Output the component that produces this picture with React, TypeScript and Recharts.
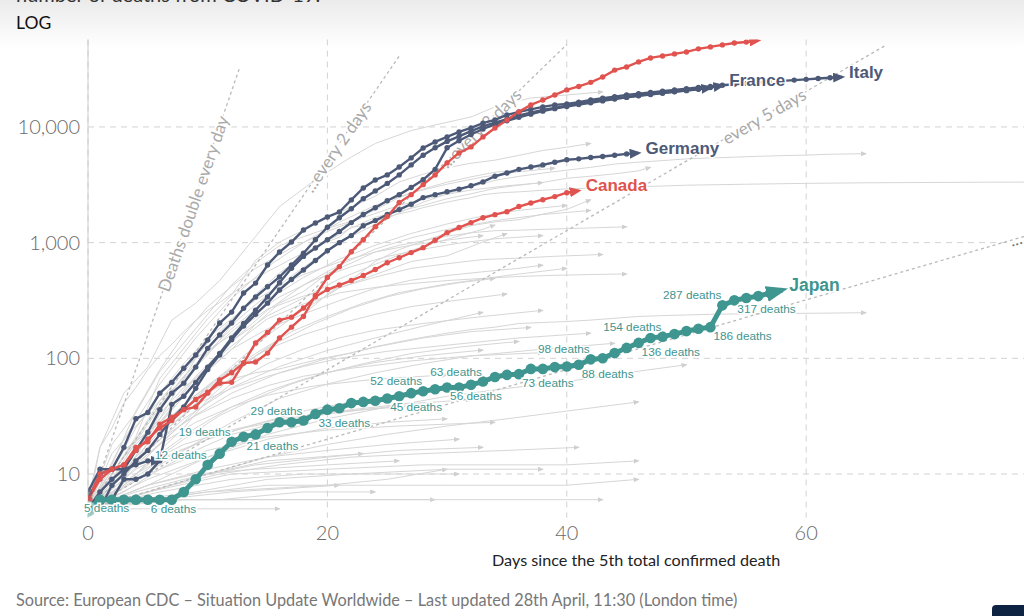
import React from 'react';
import { LineChart, Line, XAxis, YAxis, CartesianGrid, ReferenceLine } from 'recharts';

type Pair = [number, number];

// ---------- highlighted countries: cumulative deaths by day since 5th death ----------
const italyDeaths = [6,10,11,17,30,34,50,62,82,107,144,202,251,367,447,640,829,1012,1285,1477,1667,1840,2340,2970,3480,3850,4510,5400,6580,7420,8200,9060,9800,10800,11500,12700,13500,14200,14900,15500,15800,16400,17100,17700,18300,18900,19400,19900,20400,20900,21400,21900,22400,22900,23400,23800,24200,24600,25000,25400,25800,26200,26600,27000];
const franceDeaths = [5,7,9,11,16,23,36,50,61,84,122,159,202,271,339,415,505,640,810,1060,1360,1640,1960,2400,2800,3250,3850,4700,5700,6600,7500,8300,9200,10100,10900,11700,12600,13300,14000,14600,15300,15900,16500,17100,17600,18100,18700,19200,19700,20200,20700,21300,21900,22800];
const spainDeaths = [5,6,6,9,9,10,13,40,47,62,84,110,150,200,260,340,450,600,760,900,1060,1250,1490,1750,2000,2300,2600,3000,3500,4300,6600,7600,8600,9600,10500,11300,12100,12900,13700,14400,15000,15600,16200,16800,17400,18000,18600,19100,19600,20100,20600,21200,21800];
const germanyDeaths = [5,5,8,10,13,16,22,30,38,55,80,107,145,190,240,300,390,480,580,700,850,1000,1150,1400,1550,1750,1930,2150,2450,2600,2750,2900,3100,3350,3750,4000,4300,4500,4700,4950,5200,5300,5450,5550,5700,5850,5950];
const shortDarkDeaths = [7,11,11,11,12,13,13];
const usDeaths = [6,9,11,12,17,19,27,31,36,44,51,61,62,91,93,111,150,186,230,350,499,620,836,1060,1375,1680,2220,2600,3170,3850,4890,5960,6720,8200,9800,11500,13500,15500,17100,18900,20900,22400,24300,27000,31000,33000,36500,39500,41100,42800,44500,47300,49200,51200,53200,54300,55800];
const canadaDeaths = [6,10,11,12,16,20,25,29,36,38,50,65,75,91,136,167,214,227,272,340,393,430,470,520,585,670,740,820,905,1050,1220,1350,1490,1640,1745,1850,2050,2200,2350,2500,2700,2810];
const japanDeaths = [5,6,6,6,6,6,6,6,7,9,12,15,19,21,22,25,28,28,29,33,36,37,41,42,43,45,47,50,52,54,56,56,59,63,69,72,73,81,81,84,85,88,98,100,111,123,136,150,154,162,172,180,186,287,317,332,345,366,389];

// Japan annotated points (day index) and which side of the line the label sits
const japanAnnotations: { day: number; side: 'above' | 'below' | 'right' }[] = [
  { day: 0, side: 'right' }, { day: 5, side: 'below' }, { day: 10, side: 'above' },
  { day: 12, side: 'above' }, { day: 13, side: 'below' }, { day: 18, side: 'above' },
  { day: 19, side: 'below' }, { day: 25, side: 'below' }, { day: 28, side: 'above' },
  { day: 30, side: 'below' }, { day: 33, side: 'above' }, { day: 36, side: 'below' },
  { day: 41, side: 'below' }, { day: 42, side: 'above' }, { day: 46, side: 'below' },
  { day: 48, side: 'above' }, { day: 52, side: 'below' }, { day: 53, side: 'above' },
  { day: 54, side: 'below' },
];

// ---------- other countries (grey), [day, deaths] ----------
const greyHigh: Pair[][] = [
  [[0,5],[1,17],[3,50],[5,84],[7,214],[9,300],[11,470],[14,1130],[16,2050],[19,3500],[22,5500],[24,7200],[27,9300],[29,10400],[32,12200],[34,14900],[37,17800],[40,18900],[43,20100]],
  [[0,5],[2,15],[4,26],[6,43],[8,66],[10,107],[12,194],[14,291],[16,429],[18,611],[20,853],[22,1135],[24,1433],[26,1812],[28,2234],[30,2640],[32,3036],[34,3452],[36,3739],[38,3993],[40,4232],[42,4474],[44,4777],[46,4958],[48,5118],[50,5297],[52,5391],[54,5481],[56,5574],[58,5650],[60,5710],[62,5806],[65,5877]],
  [[0,6],[1,17],[2,25],[3,41],[4,56],[5,80],[6,106],[7,132],[8,170],[9,213],[10,259],[11,304],[12,361],[13,425],[14,490],[15,562],[16,636],[17,723],[18,812],[19,909],[20,1017],[21,1114],[22,1368],[23,1381],[24,1524],[25,1666],[26,1772],[27,1870],[28,2006],[29,2121],[30,2239],[31,2348],[32,2445],[33,2595],[34,2666],[35,2718],[36,2747],[37,2791],[38,2838],[39,2873],[40,2915],[45,3015],[50,3136],[55,3199],[60,3253],[65,3290],[70,3309],[75,3330],[80,3339],[85,3342]],
  [[0,5],[2,10],[4,21],[6,67],[8,122],[10,220],[12,353],[14,705],[16,1011],[18,1283],[20,1632],[22,2035],[24,2523],[26,3346],[28,3903],[30,4440],[32,4857],[34,5163],[36,5683],[38,6262],[40,6679],[42,7207]],
  [[0,5],[2,10],[4,20],[6,43],[8,76],[10,136],[12,213],[14,356],[16,546],[18,771],[20,1039],[22,1339],[24,1651],[26,1867],[28,2101],[30,2396],[32,2643],[34,2945],[36,3134],[38,3315],[40,3601],[42,3751],[44,3929],[46,4177],[47,4475]],
  [[0,5],[2,18],[4,34],[6,77],[8,136],[10,240],[12,431],[14,667],[16,941],[18,1124],[20,1328],[22,1532],[24,1924],[26,2462],[28,2906],[30,3331],[32,3704],[34,4057],[36,4286],[38,4543]],
  [[0,5],[2,7],[4,10],[6,16],[8,25],[10,44],[12,69],[14,105],[16,146],[18,239],[20,358],[22,477],[24,687],[26,870],[28,1033],[30,1203],[32,1400],[34,1511],[36,1580],[38,1765],[40,1937],[42,2350]],
  [[0,5],[2,11],[4,14],[6,33],[8,56],[10,80],[12,119],[14,197],[16,300],[18,378],[20,540],[22,666],[24,831],[26,948],[28,1036],[30,1138],[32,1217],[34,1268],[36,1281],[38,1302],[40,1322],[42,1340],[45,1370]],
  [[0,5],[3,10],[6,22],[9,46],[12,85],[15,158],[18,263],[21,406],[24,530],[27,687],[30,769],[33,1014],[35,1200]],
  [[0,5],[3,16],[6,28],[9,60],[12,141],[15,233],[18,332],[21,486],[24,650],[27,857],[30,1069],[33,1305],[34,1420]],
  [[0,5],[2,12],[4,35],[6,80],[8,160],[10,280],[12,420],[14,600],[17,900],[20,1250],[23,1650],[26,2100],[29,2500],[32,2850],[35,3100],[38,3300]],
  [[0,5],[3,20],[6,60],[9,150],[12,330],[15,620],[18,1000],[21,1500],[24,2100],[27,2700],[30,3200],[33,3700],[36,4100],[39,4400]],
  [[0,5],[3,14],[6,40],[9,90],[12,180],[15,320],[18,500],[21,720],[24,950],[27,1200],[30,1450],[33,1700],[36,1900],[40,2100]],
  [[0,5],[3,10],[6,30],[9,70],[12,140],[15,260],[18,430],[21,640],[24,880],[27,1100],[30,1300],[34,1550],[38,1750],[42,1900]],
  [[0,5],[2,11],[4,25],[6,50],[8,90],[10,150],[12,220],[14,320],[16,420],[18,530],[21,680],[24,830],[27,950],[30,1050],[33,1150]],
  [[0,5],[2,9],[4,19],[6,38],[8,70],[10,110],[12,170],[14,250],[16,340],[19,480],[22,620],[25,760],[28,880],[31,990],[34,1080],[38,1150]],
];

const greyMid: Pair[][] = [
  [[0,5],[3,14],[6,30],[9,100],[12,160],[15,266],[18,345],[21,409],[24,504],[27,599],[30,657],[33,714],[36,735],[39,762],[43,790]],
  [[0,5],[3,16],[6,28],[9,68],[12,128],[15,220],[18,295],[21,368],[24,410],[27,443],[30,470],[33,491],[36,510],[39,522],[42,530],[45,536]],
  [[0,5],[3,9],[6,27],[9,62],[12,120],[15,180],[18,242],[21,315],[24,403],[27,474],[30,520],[33,560],[36,600],[38,640]],
  [[0,5],[4,13],[8,30],[12,56],[16,85],[20,117],[24,150],[28,190],[33,250]],
  [[0,5],[2,8],[4,13],[6,22],[8,32],[10,50],[12,66],[14,75],[16,81],[18,91],[20,102],[22,111],[24,126],[26,139],[28,152],[30,165],[32,177],[34,186],[36,200],[38,204],[40,208],[42,214],[44,222],[46,230],[48,234],[50,237],[52,240],[54,242],[56,243],[58,244],[60,245],[62,246],[65,248]],
  [[0,5],[5,8],[10,14],[15,22],[20,30],[25,38],[30,47],[35,55],[40,63],[45,75],[50,88]],
  [[0,5],[5,7],[10,10],[15,14],[20,18],[25,22],[30,26],[35,30],[40,35],[46,42]],
  [[0,5],[3,12],[6,26],[9,48],[12,80],[15,120],[18,160],[21,200],[24,240],[27,280],[30,310],[35,360]],
  [[0,5],[3,9],[6,18],[9,35],[12,60],[15,90],[18,120],[21,150],[24,175],[28,200],[33,230],[38,260]],
  [[0,5],[2,9],[5,20],[8,40],[11,70],[14,110],[17,170],[20,230],[23,300],[26,370],[30,440],[35,520],[40,600]],
  [[0,5],[3,10],[6,22],[9,40],[12,55],[15,70],[18,85],[21,100],[25,115],[30,130],[36,150],[42,165]],
  [[0,5],[4,9],[8,16],[12,28],[16,45],[20,60],[24,75],[28,90],[32,105],[38,120],[44,135]],
  [[0,5],[2,8],[4,14],[7,30],[10,55],[13,90],[16,140],[19,200],[22,270],[25,340],[28,400],[31,450],[34,490]],
  [[0,5],[3,8],[6,15],[9,25],[12,38],[15,52],[18,66],[21,80],[24,92],[28,105],[33,118]],
  [[0,5],[2,7],[5,12],[8,20],[11,32],[14,45],[17,60],[20,75],[23,90],[27,110],[31,125],[36,140]],
  [[0,5],[4,12],[8,28],[12,50],[16,75],[20,100],[24,125],[28,150],[32,170],[37,185]],
  [[0,5],[3,11],[6,20],[9,32],[12,45],[15,58],[18,70],[22,82],[27,95],[32,105],[38,112]],
];

const greyLow: Pair[][] = [
  [[0,5],[16,5]],
  [[0,5],[6,6],[15,6],[29,6]],
  [[0,5],[5,6],[10,7],[15,8],[20,8],[25,9],[30,11]],
  [[0,5],[5,8],[10,11],[15,14],[20,16],[25,18],[31,20]],
  [[0,5],[5,7],[10,10],[15,13],[23,15]],
  [[0,5],[6,6],[12,7],[21,8]],
  [[0,5],[5,9],[10,14],[15,20],[20,25],[25,28],[30,30]],
  [[0,5],[5,10],[10,16],[15,21],[20,24],[26,26],[34,28]],
  [[0,5],[4,11],[8,18],[12,24],[16,30],[20,34],[26,38]],
  [[0,5],[4,7],[8,9],[14,12],[20,14],[26,16],[33,17]],
  [[0,5],[8,6],[20,6],[36,6],[43,6]],
  [[0,5],[10,7],[20,8],[30,8],[40,8],[46,9]],
  [[0,5],[5,7],[12,10],[20,11],[28,12],[40,12],[46,13]],
  [[0,5],[3,8],[6,13],[10,20],[14,27],[18,35],[22,42],[27,48]],
  [[0,5],[3,6],[7,8],[11,10],[16,12],[22,14],[28,15],[35,16],[41,17]],
  [[0,5],[2,7],[4,10],[7,15],[10,20],[13,25],[17,30],[21,35],[26,40],[32,44]],
  [[0,5],[4,6],[9,7],[15,9],[22,10],[30,11],[38,11]],
  [[0,5],[3,7],[6,11],[9,16],[12,22],[16,28],[20,33],[24,37],[29,40]],
  [[0,5],[2,6],[5,8],[9,10],[14,11],[20,12],[26,13]],
  [[0,5],[6,7],[12,9],[18,10],[25,10],[31,10]],
  [[0,5],[5,6],[11,6],[18,7],[24,7]],
  [[0,5],[3,10],[6,18],[9,28],[12,38],[15,48],[19,58],[24,66],[30,72]],
];

// ---------- doubling-time guide lines ----------
const doublingTexts = ['Deaths double every day', '...every 2 days', '...every 3 days', 'every 5 days', '...'];
const doublingStarts: Pair[] = [[0,5],[0,5],[0,5],[0,5],[0,5]];
const doublingEnds: Pair[] = [[12.7,33270],[26,40960],[40,51600],[66.6,50500],[78.2,1130]];

const xTicks = [0, 20, 40, 60];
const yTicks = [10, 100, 1000, 10000];

// ---------- styles ----------
const DARK = '#4c5a78';
const RED = '#e0534f';
const TEAL = '#3f958f';
const GREY = '#d6d6d6';
const LABEL_FONT = '"Liberation Sans", Arial, Helvetica, sans-serif';
const UI_FONT = 'Lato, "Open Sans", sans-serif';
const doublingLabelPos = [
  { t: 0.69, anchor: 'middle', size: 17, color: '#a9a9a9' },
  { t: 0.8, anchor: 'middle', size: 17, color: '#a9a9a9' },
  { t: 0.82, anchor: 'middle', size: 17, color: '#a9a9a9' },
  { t: 0.848, anchor: 'middle', size: 17, color: '#a9a9a9' },
  { t: 0.985, anchor: 'start', size: 17, color: '#777777' },
];

const byDay = (vals: number[]) => vals.map((deaths, day) => ({ day, deaths }));
const byPairs = (pairs: Pair[]) => pairs.map(([day, deaths]) => ({ day, deaths }));

const highlighted = [
  { name: 'Italy', values: italyDeaths, color: DARK, marker: 'arrow-dark', showName: true },
  { name: 'Spain', values: spainDeaths, color: DARK, marker: 'arrow-dark', showName: false },
  { name: 'France', values: franceDeaths, color: DARK, marker: 'arrow-dark', showName: true },
  { name: 'Germany', values: germanyDeaths, color: DARK, marker: 'arrow-dark', showName: true },
  { name: 'Other', values: shortDarkDeaths, color: DARK, marker: 'arrow-dark', showName: false },
  { name: 'United States', values: usDeaths, color: RED, marker: 'arrow-red', showName: false },
  { name: 'Canada', values: canadaDeaths, color: RED, marker: 'arrow-red', showName: true },
];

const ptX = (p: any) => (p.x ?? p.viewBox?.x) as number;
const ptY = (p: any) => (p.y ?? p.viewBox?.y) as number;

const makeDot = (color: string, r: number, lastIndex: number, firstRing: boolean) => (props: any) => {
  const { cx, cy, index } = props;
  const key = `dot-${index}`;
  if (cx == null || cy == null || index === lastIndex) return <g key={key} />;
  if (index === 0) {
    if (firstRing) {
      return (
        <g key={key}>
          <circle cx={cx} cy={cy} r={r + 2.5} fill="#9ccac6" />
          <circle cx={cx} cy={cy} r={r - 0.5} fill={color} />
        </g>
      );
    }
    return <circle key={key} cx={cx} cy={cy} r={r + 1.8} fill={color} fillOpacity={0.55} />;
  }
  return <circle key={key} cx={cx} cy={cy} r={r} fill={color} />;
};

const nameText = (x: number, y: number, name: string, color: string, size: number) => (
  <text
    x={x + 7}
    y={y - 5}
    fill={color}
    fontSize={size}
    fontWeight="bold"
    fontFamily={LABEL_FONT}
    dominantBaseline="central"
    stroke="#ffffff"
    strokeWidth={3}
    paintOrder="stroke"
  >
    {name}
  </text>
);

const makeNameLabel = (name: string, color: string, lastIndex: number) => (props: any) => {
  if (props.index !== lastIndex) return null;
  return nameText(ptX(props), ptY(props), name, color, 17);
};

const japanLast = japanDeaths.length - 1;
const japanLabel = (props: any) => {
  const { index, value } = props;
  const x = ptX(props);
  const y = ptY(props);
  if (index === japanLast) return nameText(x, y, 'Japan', TEAL, 17.5);
  const ann = japanAnnotations.find((a) => a.day === index);
  if (!ann) return null;
  let tx = x;
  let ty = y;
  let anchor: 'start' | 'end' = 'start';
  if (ann.side === 'above') { tx = x - 1; ty = y - 10; anchor = 'end'; }
  else if (ann.side === 'below') { tx = x + 3; ty = y + 9; anchor = 'start'; }
  else { tx = x - 4; ty = y - 1; anchor = 'start'; }
  return (
    <text
      x={tx}
      y={ty}
      textAnchor={anchor}
      dominantBaseline="central"
      fill={TEAL}
      fontSize={11.8}
      fontFamily={LABEL_FONT}
      stroke="#ffffff"
      strokeWidth={3}
      paintOrder="stroke"
    >
      {`${value} deaths`}
    </text>
  );
};

const makeRefLabel = (text: string, pos: { t: number; anchor: string; size: number; color: string }) => (props: any) => {
  const vb = props.viewBox;
  if (!vb) return null;
  const { x, y, width, height } = vb;
  const angle = (-Math.atan2(height, width) * 180) / Math.PI;
  const cx = x + pos.t * width;
  const cy = y + height - pos.t * height;
  return (
    <text
      x={cx}
      y={cy}
      transform={`rotate(${angle} ${cx} ${cy})`}
      textAnchor={pos.anchor as any}
      dominantBaseline="central"
      fill={pos.color}
      fontSize={pos.size}
      fontFamily={UI_FONT}
      stroke="#ffffff"
      strokeWidth={4}
      paintOrder="stroke"
    >
      {text}
    </text>
  );
};

const greyAll = [...greyHigh, ...greyMid, ...greyLow];

export default function App() {
  return (
    <div style={{ position: 'absolute', left: 0, top: 0, width: 1024, height: 616, overflow: 'hidden', background: '#fff' }}>
      <svg width="0" height="0" style={{ position: 'absolute' }}>
        <defs>
          <marker id="arrow-dark" markerWidth="12" markerHeight="10" refX="9" refY="5" orient="auto" markerUnits="userSpaceOnUse">
            <path d="M0,0 L12,5 L0,10 Z" fill={DARK} />
          </marker>
          <marker id="arrow-red" markerWidth="12" markerHeight="10" refX="9" refY="5" orient="auto" markerUnits="userSpaceOnUse">
            <path d="M0,0 L12,5 L0,10 Z" fill={RED} />
          </marker>
          <marker id="arrow-teal" markerWidth="22" markerHeight="16" refX="16" refY="8" orient="auto" markerUnits="userSpaceOnUse">
            <path d="M0,0 L22,8 L0,16 Z" fill={TEAL} />
          </marker>
          <marker id="arrow-grey" markerWidth="6" markerHeight="5" refX="5" refY="2.5" orient="auto" markerUnits="userSpaceOnUse">
            <path d="M0,0 L6,2.5 L0,5 Z" fill="#cfcfcf" />
          </marker>
        </defs>
      </svg>
      <div style={{ position: 'absolute', left: 0, top: 0, width: 1024, height: 48, background: 'linear-gradient(#ebebeb, #ffffff)' }} />
      <div style={{ position: 'absolute', left: 16, top: -16, fontFamily: UI_FONT, fontSize: 20, lineHeight: '20px', color: '#333', whiteSpace: 'nowrap' }}>
        number of deaths from COVID-19.
      </div>
      <div style={{ position: 'absolute', left: 16, top: 13, fontFamily: UI_FONT, fontSize: 17.5, lineHeight: '20px', color: '#111' }}>LOG</div>
      <div style={{ position: 'absolute', left: 0, top: 0 }}>
        <LineChart width={1024} height={616} margin={{ top: 39.5, right: 0, bottom: 68.4, left: 0 }}>
          <CartesianGrid
            stroke="#d2d2d2"
            strokeDasharray="6 5"
            horizontalValues={yTicks}
            verticalValues={xTicks}
          />
          <XAxis
            type="number"
            dataKey="day"
            domain={[0, 78.2]}
            allowDataOverflow
            ticks={xTicks}
            axisLine={false}
            tickLine={false}
            height={30}
            tick={{ fill: '#6b6b6b', fontSize: 20, fontFamily: UI_FONT, fontWeight: 300 }}
          />
          <YAxis
            type="number"
            dataKey="deaths"
            scale="log"
            domain={[4.2, 57000]}
            allowDataOverflow
            ticks={yTicks}
            width={88}
            axisLine={{ stroke: '#cccccc' }}
            tickLine={false}
            tickFormatter={(v: number) => v.toLocaleString('en-US')}
            tick={{ fill: '#6b6b6b', fontSize: 20, fontFamily: UI_FONT, fontWeight: 300 }}
          />
          {greyAll.map((pairs, i) => (
            <Line
              key={`grey-${i}`}
              data={byPairs(pairs)}
              dataKey="deaths"
              stroke={GREY}
              strokeWidth={1}
              dot={false}
              activeDot={false}
              markerEnd="url(#arrow-grey)"
              isAnimationActive={false}
            />
          ))}
          {doublingTexts.map((text, i) => (
            <ReferenceLine
              key={`dbl-${i}`}
              segment={[
                { x: doublingStarts[i][0], y: doublingStarts[i][1] },
                { x: doublingEnds[i][0], y: doublingEnds[i][1] },
              ]}
              stroke="#b9b9b9"
              strokeWidth={1.3}
              strokeDasharray="3 3"
              label={makeRefLabel(text, doublingLabelPos[i])}
            />
          ))}
          {highlighted.map((s) => (
            <Line
              key={s.name}
              data={byDay(s.values)}
              dataKey="deaths"
              stroke={s.color}
              strokeWidth={2.4}
              dot={makeDot(s.color, 2.7, s.values.length - 1, false)}
              activeDot={false}
              markerEnd={`url(#${s.marker})`}
              label={s.showName ? makeNameLabel(s.name, s.color, s.values.length - 1) : undefined}
              isAnimationActive={false}
            />
          ))}
          <Line
            data={byDay(japanDeaths)}
            dataKey="deaths"
            stroke={TEAL}
            strokeWidth={5}
            dot={makeDot(TEAL, 5.3, japanLast, true)}
            activeDot={false}
            markerEnd="url(#arrow-teal)"
            label={japanLabel}
            isAnimationActive={false}
          />
        </LineChart>
      </div>
      <div style={{ position: 'absolute', left: 492, top: 551, fontFamily: UI_FONT, fontSize: 16.2, lineHeight: '18px', color: '#222', whiteSpace: 'nowrap' }}>
        Days since the 5th total confirmed death
      </div>
      <div style={{ position: 'absolute', left: 16, top: 590, fontFamily: UI_FONT, fontSize: 16.3, lineHeight: '20px', color: '#777', whiteSpace: 'nowrap' }}>
        Source: European CDC – Situation Update Worldwide – Last updated 28th April, 11:30 (London time)
      </div>
      <div style={{ position: 'absolute', left: 992, top: 605, width: 40, height: 14, background: '#0d2341', borderRadius: 4 }} />
    </div>
  );
}
